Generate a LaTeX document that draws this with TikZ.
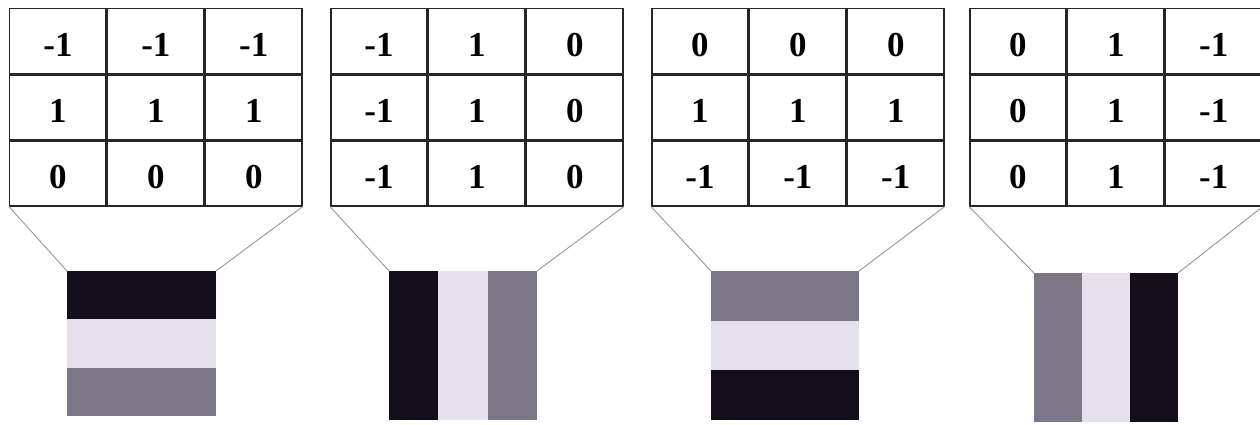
\documentclass[tikz,border=0pt]{standalone}
\usepackage{fontspec}
\setmainfont{Liberation Serif}
\usetikzlibrary{matrix,calc}
\definecolor{dk}{RGB}{20,14,28}
\definecolor{lt}{RGB}{228,224,236}
\definecolor{gr}{RGB}{124,119,135}
\definecolor{linkc}{RGB}{150,150,150}
\begin{document}
\begin{tikzpicture}[x=1pt,y=-1pt,
  cell/.style={draw=black!85, line width=1.5pt, minimum width=96.4pt, minimum height=64.7pt,
    inner sep=0pt, outer sep=0pt, text height=30.5pt, text depth=0pt,
    font=\fontsize{35}{40}\selectfont\bfseries},
  grid/.style={matrix of nodes, nodes={cell}, column sep=0pt, row sep=0pt,
    inner sep=0pt, outer sep=0pt, anchor=north west},
  sq/.style={minimum width=#1, inner sep=0pt, outer sep=0pt, anchor=north west, fill=lt},
  hstripes/.style n args={3}{path picture={
    \path (path picture bounding box.north west) coordinate (pa)
          (path picture bounding box.south east) coordinate (pb);
    \fill[#1] (pa) rectangle ($(pb|-pa)!1/3!(pb)$);
    \fill[#2] ($(pa)!1/3!(pa|-pb)$) rectangle ($(pb|-pa)!2/3!(pb)$);
    \fill[#3] ($(pa)!2/3!(pa|-pb)$) rectangle (pb);}},
  vstripes/.style n args={3}{path picture={
    \path (path picture bounding box.north west) coordinate (pa)
          (path picture bounding box.south east) coordinate (pb);
    \fill[#1] (pa) rectangle ($(pa|-pb)!1/3!(pb)$);
    \fill[#2] ($(pa)!1/3!(pb|-pa)$) rectangle ($(pa|-pb)!2/3!(pb)$);
    \fill[#3] ($(pa)!2/3!(pb|-pa)$) rectangle (pb);}},
  link/.style={draw=linkc, line width=0.9pt}]
\useasboundingbox (0,0) rectangle (1260,425);

\matrix (m1) [grid] at (9,8) { -1 & -1 & -1 \\ 1 & 1 & 1 \\ 0 & 0 & 0 \\ };
\matrix (m2) [grid] at (330,8) { -1 & 1 & 0 \\ -1 & 1 & 0 \\ -1 & 1 & 0 \\ };
\matrix (m3) [grid] at (651,8) { 0 & 0 & 0 \\ 1 & 1 & 1 \\ -1 & -1 & -1 \\ };
\matrix (m4) [grid] at (969,8) { 0 & 1 & -1 \\ 0 & 1 & -1 \\ 0 & 1 & -1 \\ };

\node[sq=149pt, minimum height=145pt, hstripes={dk}{lt}{gr}] (s1) at (67,271) {};
\node[sq=148pt, minimum height=149pt, vstripes={dk}{lt}{gr}] (s2) at (389,271) {};
\node[sq=148pt, minimum height=149pt, hstripes={gr}{lt}{dk}] (s3) at (711,271) {};
\node[sq=144pt, minimum height=149pt, vstripes={gr}{lt}{dk}] (s4) at (1034,273) {};

\foreach \i in {1,2,3,4}{
  \draw[link] (m\i.south west) -- (s\i.north west);
  \draw[link] (m\i.south east) -- (s\i.north east);
}
\end{tikzpicture}
\end{document}
